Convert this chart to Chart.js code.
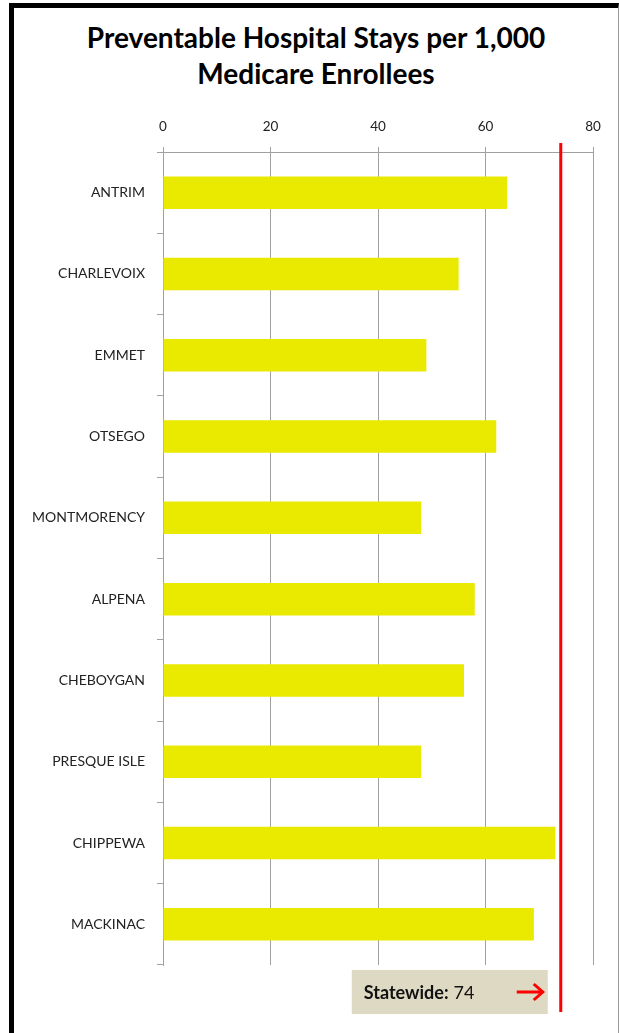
<!DOCTYPE html>
<html>
<head>
<meta charset="utf-8">
<script src="https://cdn.jsdelivr.net/npm/chart.js@4"></script>
<style>
    html, body { margin: 0; padding: 0; background: #fff; }
    .frame {
        position: absolute; left: 9px; top: 3px; width: 610px; height: 1030px;
        box-sizing: border-box;
        border-top: 5px solid #000; border-left: 5px solid #000; border-right: 1px solid #999;
    }
    .title {
        position: absolute; left: 14px; right: 1px; top: 19px;
        text-align: center; font-family: Lato, sans-serif; font-weight: bold;
        font-size: 28px; line-height: 36px; color: #000;
    }
    #chartBox { position: absolute; left: 0; top: 0; width: 619px; height: 1033px; }
</style>
</head>
<body>
<div class="frame"></div>
<div class="title">Preventable Hospital Stays per 1,000<br>Medicare Enrollees</div>
<div id="chartBox"><canvas id="chart"></canvas></div>
<script>
// Chart data
const counties = ['ANTRIM', 'CHARLEVOIX', 'EMMET', 'OTSEGO', 'MONTMORENCY', 'ALPENA', 'CHEBOYGAN', 'PRESQUE ISLE', 'CHIPPEWA', 'MACKINAC'];
const stays = [64, 55, 49, 62, 48, 58, 56, 48, 73, 69];
const xTicks = [0, 20, 40, 60, 80];
const statewide = 74;

// Red statewide line + label box
const statewidePlugin = {
    id: 'statewide',
    afterDatasetsDraw(chart) {
        const ctx = chart.ctx;
        const area = chart.chartArea;
        const x = chart.scales.x.getPixelForValue(statewide);
        ctx.save();
        ctx.strokeStyle = '#ff0000';
        ctx.lineWidth = 3;
        ctx.beginPath();
        ctx.moveTo(x, area.top - 9);
        ctx.lineTo(x, area.bottom + 47);
        ctx.stroke();

        // label box to the left of the line
        const boxRight = x - 13, boxW = 196, boxTop = area.bottom + 5, boxH = 44;
        ctx.fillStyle = '#ddd9c3';
        ctx.fillRect(boxRight - boxW, boxTop, boxW, boxH);

        ctx.textBaseline = 'middle';
        ctx.textAlign = 'left';
        ctx.fillStyle = '#111';
        ctx.font = 'bold 18px Lato, sans-serif';
        const label = 'Statewide:';
        const tx = boxRight - boxW + 12, ty = boxTop + 23;
        ctx.fillText(label, tx, ty);
        const w = ctx.measureText(label).width;
        ctx.font = '18px Lato, sans-serif';
        ctx.fillText(String(statewide), tx + w + 5, ty);

        // arrow
        const ay = boxTop + 22;
        ctx.strokeStyle = '#ff0000';
        ctx.lineWidth = 3;
        ctx.beginPath();
        ctx.moveTo(boxRight - 31, ay);
        ctx.lineTo(boxRight - 6, ay);
        ctx.moveTo(boxRight - 14, ay - 8);
        ctx.lineTo(boxRight - 5, ay);
        ctx.lineTo(boxRight - 14, ay + 8);
        ctx.stroke();
        ctx.restore();
    }
};

document.addEventListener('DOMContentLoaded', () => {
    const ctx = document.getElementById('chart').getContext('2d');
    new Chart(ctx, {
        type: 'bar',
        data: {
            labels: counties,
            datasets: [{
                data: stays,
                backgroundColor: '#eaea00',
                borderWidth: 0,
                barPercentage: 0.4,
                categoryPercentage: 1
            }]
        },
        options: {
            indexAxis: 'y',
            responsive: true,
            maintainAspectRatio: false,
            animation: false,
            layout: { padding: { top: 100, right: 26, bottom: 68, left: 0 } },
            plugins: {
                legend: { display: false },
                tooltip: { enabled: false }
            },
            scales: {
                x: {
                    position: 'top',
                    min: 0,
                    max: 80,
                    afterBuildTicks: (scale) => { scale.ticks = xTicks.map(v => ({ value: v })); },
                    afterFit: (scale) => { scale.height = 52; },
                    grid: { color: '#a0a0a0', lineWidth: 1, tickLength: 5 },
                    border: { color: '#a0a0a0' },
                    ticks: {
                        padding: 12,
                        color: '#222',
                        font: { family: 'Lato, sans-serif', size: 13.5 }
                    }
                },
                y: {
                    afterFit: (scale) => { scale.width = 163; },
                    grid: { drawOnChartArea: false, offset: true, color: '#a0a0a0', tickLength: 6 },
                    border: { color: '#a0a0a0' },
                    ticks: {
                        padding: 12,
                        color: '#222',
                        font: { family: 'Lato, sans-serif', size: 14 }
                    }
                }
            }
        },
        plugins: [statewidePlugin]
    });
});
</script>
</body>
</html>
